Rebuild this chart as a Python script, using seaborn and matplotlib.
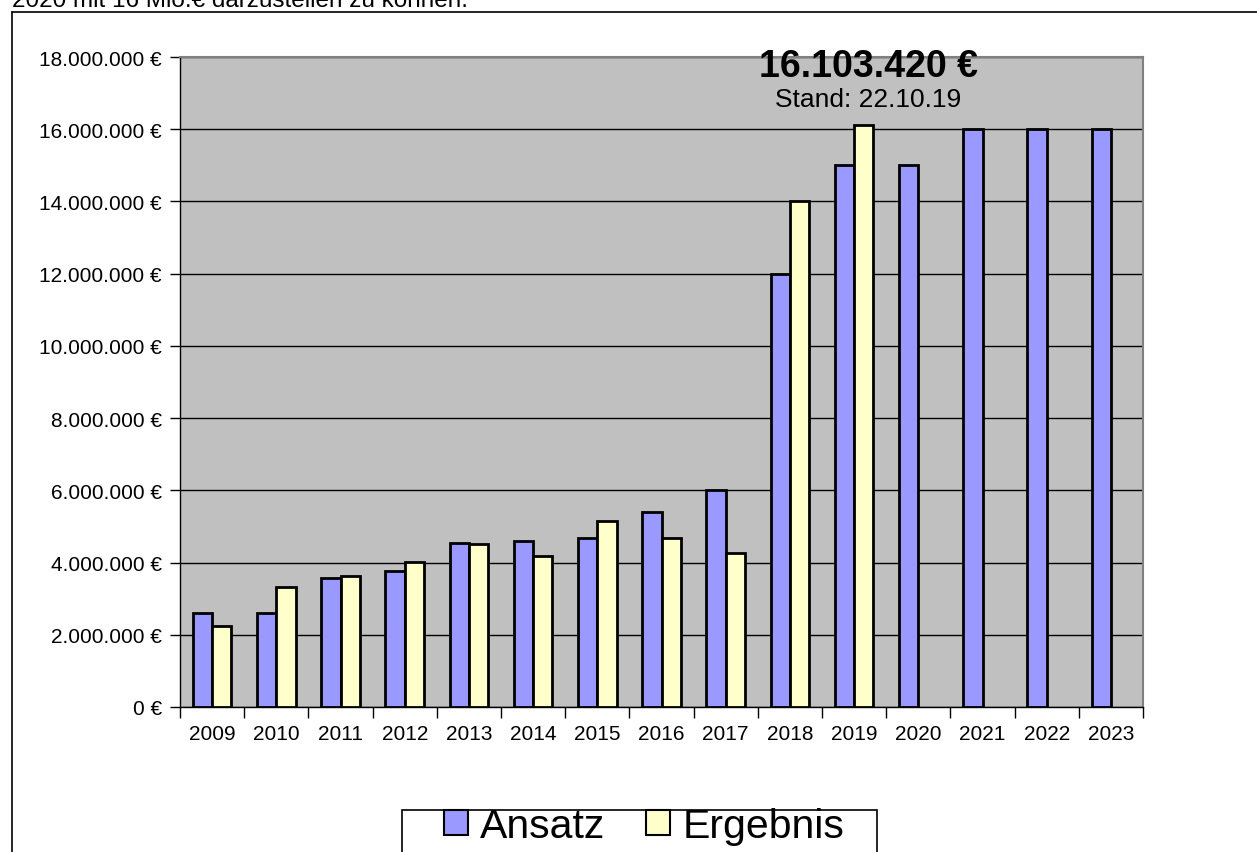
import pandas as pd
import matplotlib
matplotlib.use('Agg')
import matplotlib.pyplot as plt
from matplotlib.lines import Line2D
from matplotlib.patches import Rectangle
from matplotlib.ticker import FuncFormatter, FixedLocator
import seaborn as sns
import numpy as np

# Werte
jahre = ['2009', '2010', '2011', '2012', '2013', '2014', '2015', '2016',
         '2017', '2018', '2019', '2020', '2021', '2022', '2023']
ansatz = [2600000, 2600000, 3580000, 3770000, 4540000, 4610000, 4680000, 5390000,
          6000000, 12000000, 15000000, 15000000, 16000000, 16000000, 16000000]
ergebnis = [2240000, 3330000, 3620000, 4020000, 4520000, 4190000, 5140000, 4680000,
            4270000, 14000000, 16103420, np.nan, np.nan, np.nan, np.nan]

df = pd.DataFrame({'Jahr': jahre * 2,
                   'Betrag': ansatz + ergebnis,
                   'Reihe': ['Ansatz'] * len(jahre) + ['Ergebnis'] * len(jahre)})

sns.set_style('white')
plt.rcParams['font.family'] = ['Liberation Sans', 'DejaVu Sans']
plt.rcParams['text.color'] = 'black'
plt.rcParams['xtick.color'] = 'black'
plt.rcParams['ytick.color'] = 'black'

W, H = 1257, 853
fig = plt.figure(figsize=(W / 100, H / 100), dpi=100)
ax = fig.add_axes([180 / W, 1 - 708 / H, 963 / W, 650 / H])
ax.set_facecolor('#c0c0c0')

sns.barplot(data=df, x='Jahr', y='Betrag', hue='Reihe',
            palette={'Ansatz': '#9999ff', 'Ergebnis': '#ffffcc'},
            width=0.6, edgecolor='black', linewidth=2, saturation=1,
            ax=ax, legend=False, zorder=3)

ax.set_ylim(0, 18000000)
ax.set_xlim(-0.5, len(jahre) - 0.5)
ax.set_yticks(np.arange(0, 18000001, 2000000))
ax.yaxis.set_major_formatter(FuncFormatter(lambda v, p: f'{v:,.0f} €'.replace(',', '.')))
ax.yaxis.grid(True, color='black', linewidth=1)
ax.set_axisbelow(True)
ax.set_xlabel('')
ax.set_ylabel('')

ax.tick_params(axis='x', which='major', length=0, labelsize=15, pad=12)
ax.xaxis.set_minor_locator(FixedLocator(np.arange(-0.5, len(jahre), 1)))
ax.tick_params(axis='x', which='minor', length=8, width=1, color='black', direction='out', bottom=True)
ax.tick_params(axis='y', length=7, width=1, color='black', direction='out', left=True,
               labelsize=15, pad=6)

for side in ['top', 'right']:
    ax.spines[side].set_color('#808080')
    ax.spines[side].set_linewidth(1.5)
for side in ['left', 'bottom']:
    ax.spines[side].set_color('black')
    ax.spines[side].set_linewidth(1)

# Beschriftung über 2019
fig.text(868.5 / W, 1 - 77 / H, '16.103.420 €', ha='center', va='baseline',
         fontsize=27, fontweight='bold', zorder=5)
fig.text(868 / W, 1 - 107 / H, 'Stand: 22.10.19', ha='center', va='baseline',
         fontsize=19, zorder=5)

# Legende (Rahmen separat gezeichnet)
handles = [Rectangle((0, 0), 1, 1, facecolor='#9999ff', edgecolor='black', linewidth=1.5),
           Rectangle((0, 0), 1, 1, facecolor='#ffffcc', edgecolor='black', linewidth=1.5)]
fig.legend(handles, ['Ansatz', 'Ergebnis'], loc='upper left',
           bbox_to_anchor=(444 / W, 1 - 808 / H), ncol=2,
           fontsize=29.5, frameon=False,
           handlelength=0.58, handleheight=0.58, handletextpad=0.3,
           columnspacing=1.0, borderpad=0.0, borderaxespad=0)
fig.add_artist(Rectangle((402 / W, 1 - 870 / H), 475 / W, 59 / H, transform=fig.transFigure,
                         facecolor='none', edgecolor='black', linewidth=1.2))

# Rahmen und abgeschnittener Text oben
fig.add_artist(Line2D([12 / W, 12 / W], [0, 1 - 13 / H], color='black', linewidth=1.2))
fig.add_artist(Line2D([12 / W, 1], [1 - 13 / H, 1 - 13 / H], color='black', linewidth=1.2))
fig.text(12 / W, 1 - 7 / H, '2020 mit 16 Mio.€ darzustellen zu können.',
         ha='left', va='baseline', fontsize=17.5)

fig.savefig('out.png', dpi=100)
